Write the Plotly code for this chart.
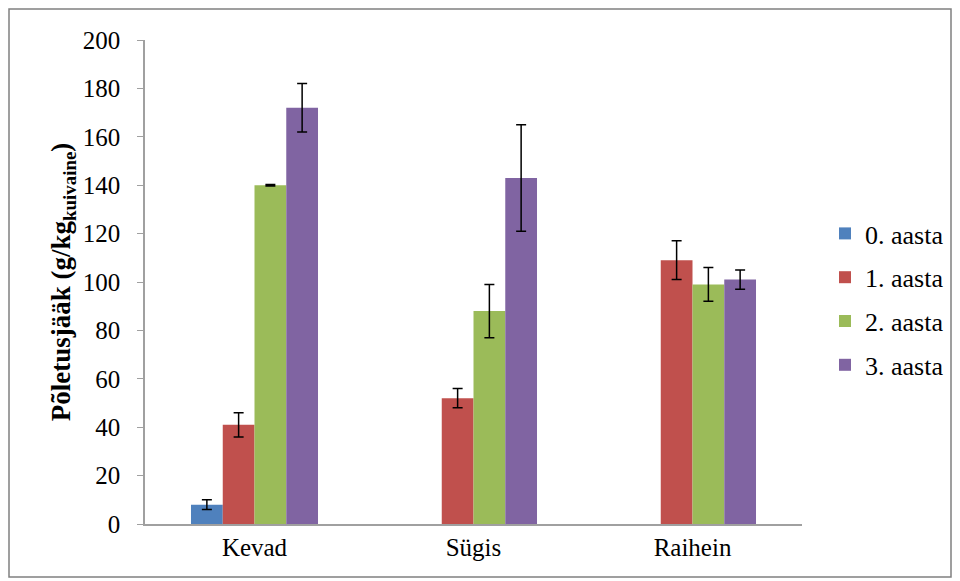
import plotly.graph_objects as go

categories = ["Kevad", "Sügis", "Raihein"]
series_names = ["0. aasta", "1. aasta", "2. aasta", "3. aasta"]
values = [
    [8, None, None],
    [41, 52, 109],
    [140, 88, 99],
    [172, 143, 101],
]
errors = [
    [2, None, None],
    [5, 4, 8],
    [0.3, 11, 7],
    [10, 22, 4],
]
colors = ["#4F81BD", "#C0504D", "#9BBB59", "#8064A2"]
y_ticks = list(range(0, 201, 20))

FAM = "Liberation Serif"

fig = go.Figure()
for i, name in enumerate(series_names):
    fig.add_trace(go.Bar(
        x=categories, y=values[i], name=name,
        marker=dict(color=colors[i], line=dict(width=0)),
        error_y=dict(type="data", array=errors[i], visible=True,
                     color="black", thickness=1.5, width=5),
        legendgroup=name,
    ))

# page body has an 8px offset; positions below are in figure coordinates
OFF = 8
W, H = 960, 581
L, T = 145 - OFF, 40 - OFF
R = W - (802 - OFF)
B = H - (524 - OFF)
pw, ph = W - L - R, H - T - B

def px_x(x):
    return (x - OFF - L) / pw

def px_y(y):
    return (H - B - (y - OFF)) / ph

fig.update_layout(
    width=W, height=H,
    margin=dict(l=L, r=R, t=T, b=B),
    paper_bgcolor="white", plot_bgcolor="white",
    barmode="group", bargap=0.42, bargroupgap=0,
    font=dict(family=FAM, size=24, color="black"),
    xaxis=dict(showline=True, linecolor="#A0A0A0", linewidth=1.5, ticks="",
               tickfont=dict(family=FAM, size=25, color="black"),
               showgrid=False, zeroline=False),
    yaxis=dict(range=[0, 200], tickvals=y_ticks, showline=True, linecolor="#A0A0A0",
               linewidth=1.5, ticks="outside", ticklen=6, tickcolor="#A0A0A0",
               showgrid=False, zeroline=False, ticklabelstandoff=12,
               tickfont=dict(family=FAM, size=25, color="black"),
               title=dict(text="<b>Põletusjääk (g/kg<sub>kuivaine</sub>)</b>",
                          font=dict(family=FAM, size=27, color="black"), standoff=4)),
    legend=dict(x=px_x(825), y=px_y(210), xanchor="left", yanchor="top",
                font=dict(family=FAM, size=26, color="black"),
                tracegroupgap=7, itemwidth=30,
                bgcolor="rgba(0,0,0,0)"),
    showlegend=True,
)
fig.add_shape(type="rect", xref="paper", yref="paper",
              x0=px_x(9), x1=px_x(951),
              y0=px_y(577), y1=px_y(9),
              line=dict(color="#808080", width=1.5), fillcolor="rgba(0,0,0,0)")
fig.write_html("out.html")
